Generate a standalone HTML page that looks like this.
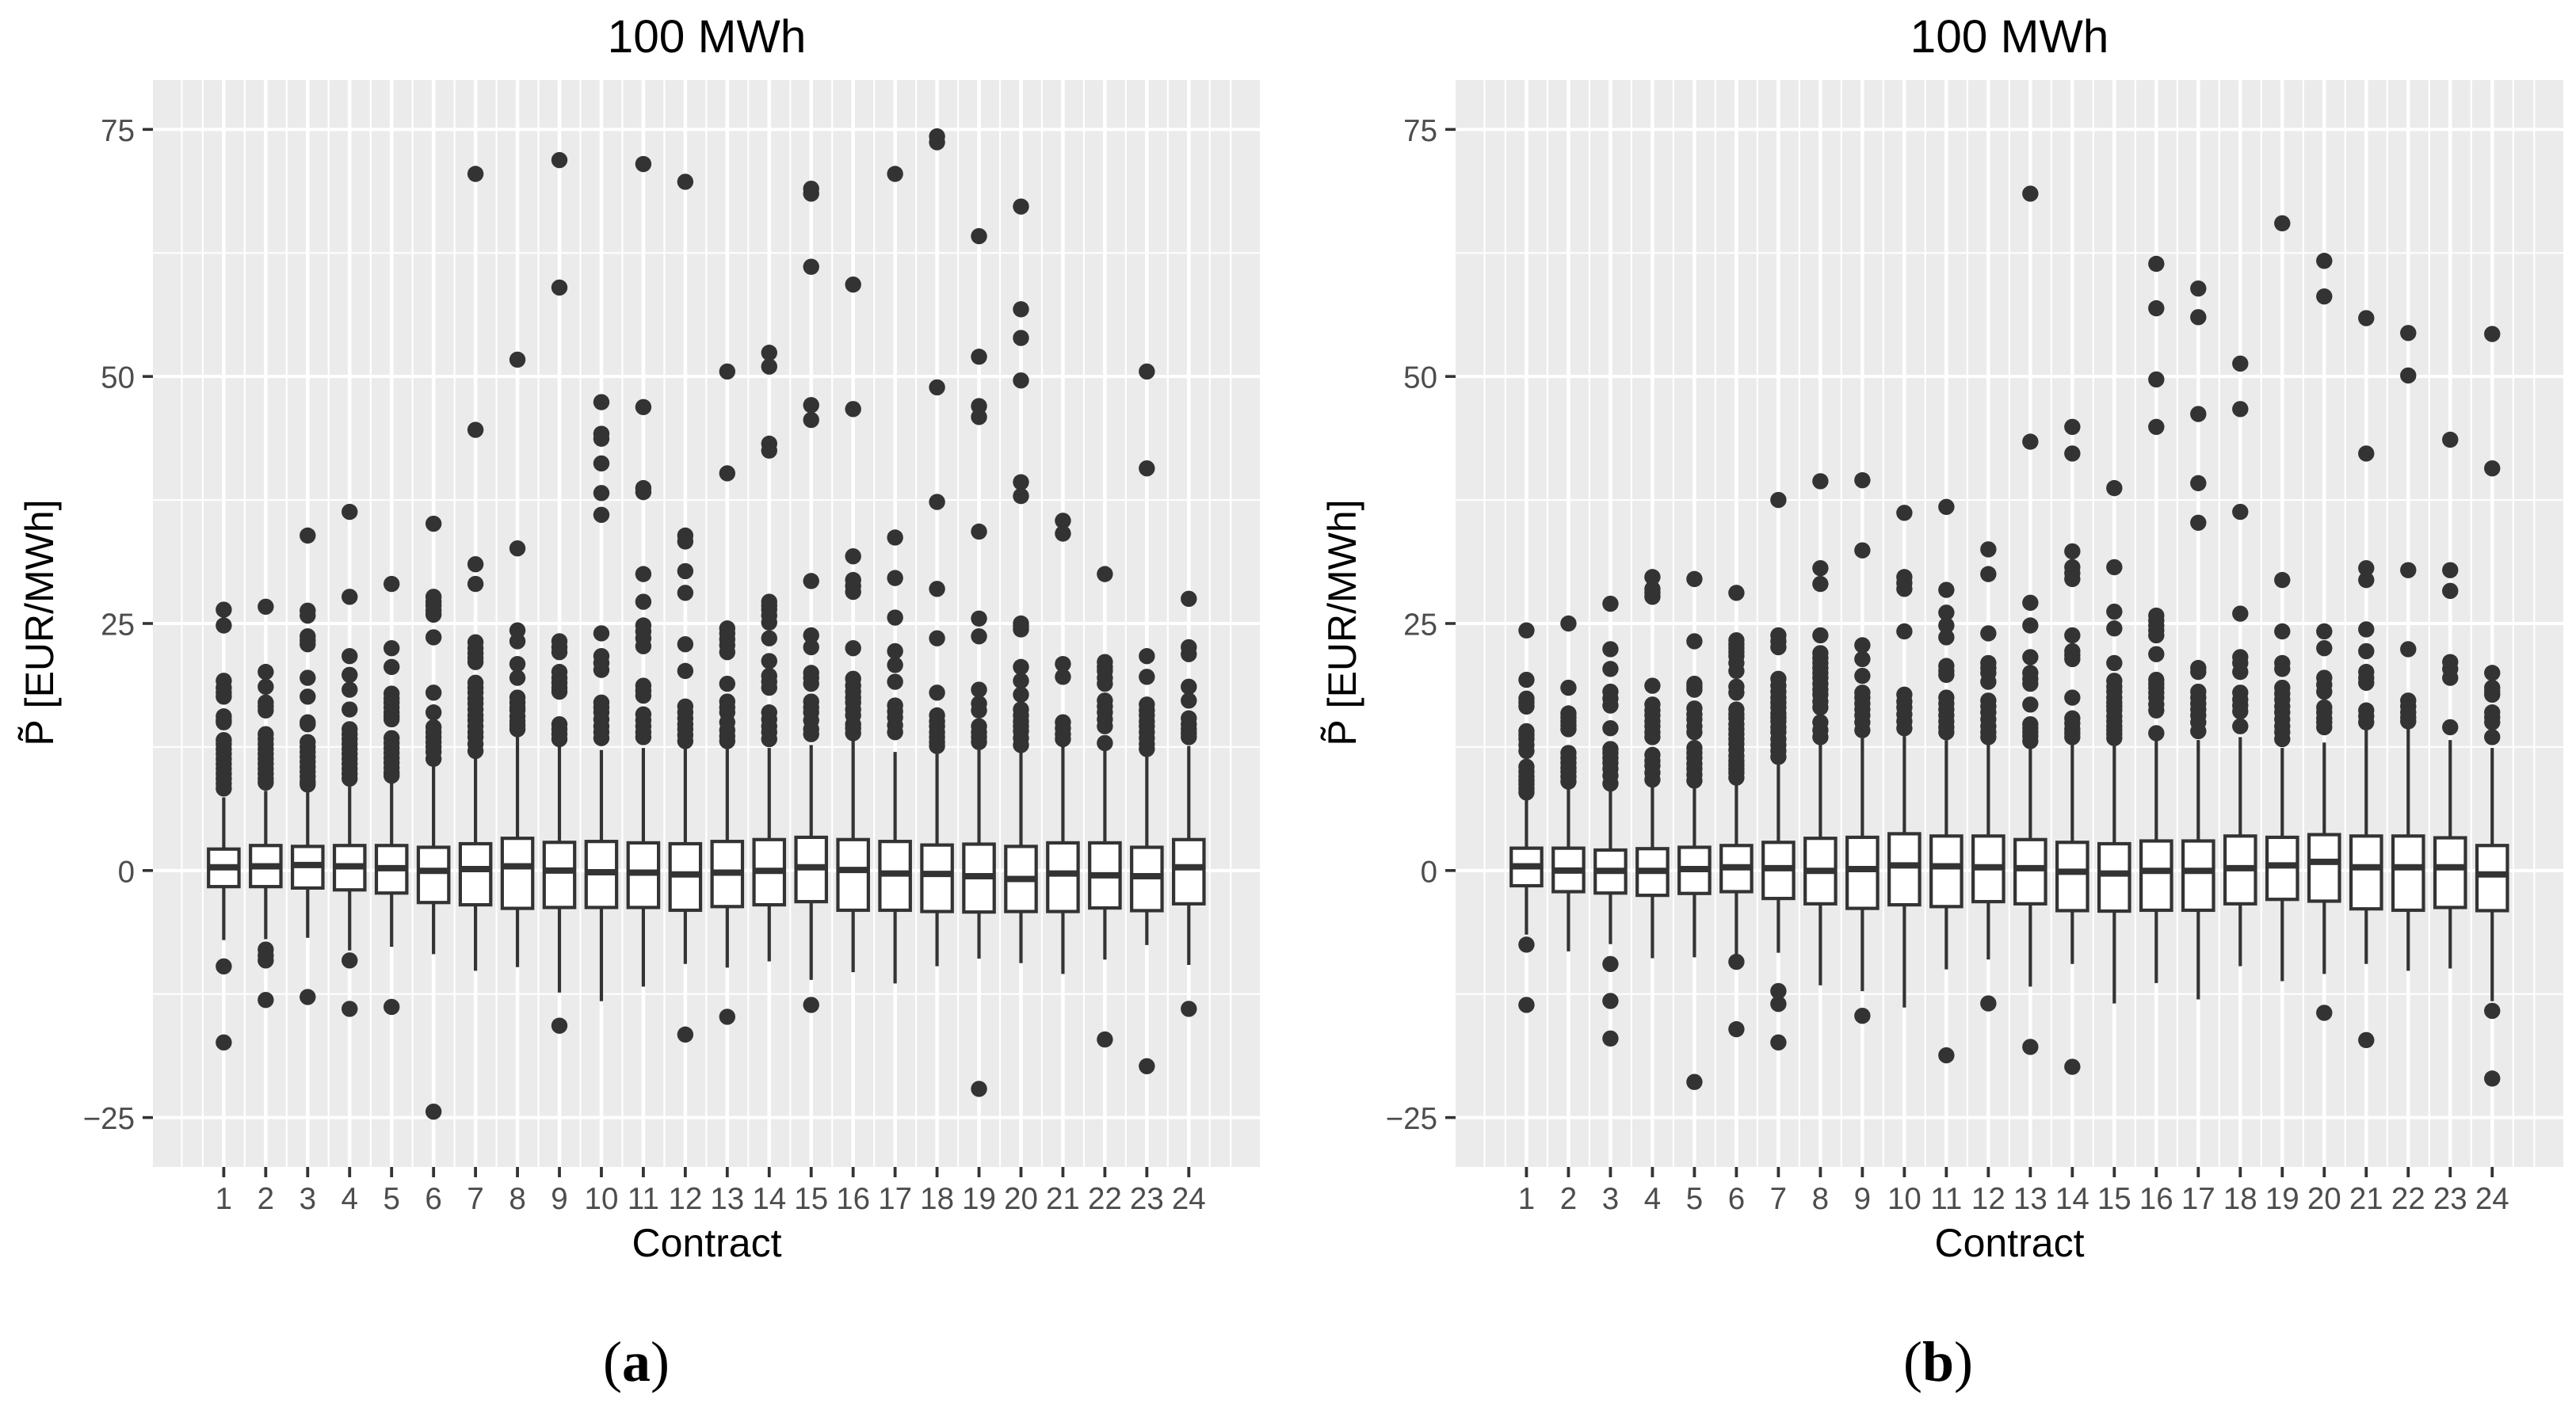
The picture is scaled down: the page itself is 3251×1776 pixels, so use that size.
<!DOCTYPE html>
<html lang="en">
<head>
<meta charset="utf-8">
<title>100 MWh boxplots</title>
<style>
html,body{margin:0;padding:0;background:#fff;}
svg{display:block;font-family:"Liberation Sans",sans-serif;}
.tick{font-size:38.5px;fill:#4d4d4d;}
.title{font-size:58.6px;fill:#000;text-anchor:middle;}
.axt{font-size:50px;fill:#000;text-anchor:middle;}
.cap{font-family:"Liberation Serif",serif;font-size:72px;fill:#000;text-anchor:middle;}
</style>
</head>
<body>
<svg id="chart" xmlns="http://www.w3.org/2000/svg" width="3251" height="1776" viewBox="0 0 3251 1776">
  <rect x="0" y="0" width="3251" height="1776" fill="#fff"/>
  <g id="panel-a"></g>
  <g id="panel-b"></g>

  <text class="title" x="892" y="66">100 MWh</text>
  <text class="title" x="2536" y="66">100 MWh</text>
  <text class="axt" x="892" y="1586">Contract</text>
  <text class="axt" x="2536" y="1586">Contract</text>
  <text class="axt" transform="translate(67,786) rotate(-90)">P&#771; [EUR/MWh]</text>
  <text class="axt" transform="translate(1711,786) rotate(-90)">P&#771; [EUR/MWh]</text>
  <text class="cap" x="803" y="1743">(<tspan font-weight="bold">a</tspan>)</text>
  <text class="cap" x="2446" y="1743">(<tspan font-weight="bold">b</tspan>)</text>
</svg>
<script>
const contracts = [1,2,3,4,5,6,7,8,9,10,11,12,13,14,15,16,17,18,19,20,21,22,23,24];
const yTickValues = [75,50,25,0,-25];
const yTickLabels = ['75','50','25','0','\u221225'];
const yMinorValues = [62.5,37.5,12.5,-12.5];
const xMinorValues = [0,0.5,1.5,2.5,3.5,4.5,5.5,6.5,7.5,8.5,9.5,10.5,11.5,12.5,13.5,14.5,15.5,16.5,17.5,18.5,19.5,20.5,21.5,22.5,23.5,24.5,25];

const q3A = [2.17,2.53,2.44,2.53,2.53,2.35,2.71,3.26,2.85,2.94,2.8,2.71,2.94,3.13,3.36,3.13,2.94,2.58,2.67,2.44,2.8,2.8,2.35,3.13];
const medianA = [0.33,0.43,0.56,0.43,0.24,-0.03,0.15,0.43,0,-0.17,-0.22,-0.4,-0.22,-0.03,0.33,0.06,-0.31,-0.35,-0.58,-0.86,-0.31,-0.49,-0.58,0.33];
const q1A = [-1.63,-1.63,-1.77,-1.96,-2.28,-3.24,-3.47,-3.83,-3.74,-3.74,-3.74,-4.02,-3.65,-3.47,-3.15,-4.02,-4.02,-4.15,-4.2,-4.15,-4.15,-3.79,-4.06,-3.37];
const whiskerLowA = [-7.04,-6.95,-6.81,-8.09,-7.72,-8.46,-10.15,-9.78,-12.35,-13.22,-11.75,-9.46,-9.83,-9.19,-11.07,-10.29,-11.43,-9.69,-8.91,-9.37,-10.47,-9.01,-7.54,-9.56];
const whiskerHighA = [7.4,8.06,7.9,8.5,8.8,10.5,11.3,13.5,12.5,12.2,12.4,12.3,12.3,12.4,12.7,13.1,12,11.8,12.2,11.9,12.5,12.1,11.5,12.6];
const outliersA = [
 [26.4,24.8,19.2,18.5,18,17.6,15.6,15.2,15,13.2,12.8,12.3,11.8,11.3,10.8,10.3,9.8,9.3,8.8,8.3,-9.7,-17.4],
 [26.7,20.1,18.6,17,16.6,16.2,13.8,13.3,12.8,12.3,11.8,11.3,10.8,10.3,9.8,9.3,8.9,-8,-8.6,-9.1,-13.1],
 [33.9,26.3,25.8,23.7,23.3,22.9,19.5,17.6,15,14.8,13,12.5,12,11.5,11,10.5,10,9.5,9,8.7,-12.8],
 [36.3,27.7,21.7,19.8,18.3,16.3,14.3,13.8,13.3,12.8,12.3,11.8,11.3,10.8,10.3,9.8,9.3,-9.1,-14],
 [29,22.5,20.6,17.9,17.4,17,16.5,16,15.6,15.3,13.4,12.9,12.4,11.9,11.4,10.9,10.4,9.9,9.6,-13.8],
 [35.1,27.7,27.2,26.8,26.3,25.9,23.6,18,16,14.5,14,13.5,13,12.5,12,11.3,-24.4],
 [70.5,44.6,31,29,23.1,22.5,22,21.5,21.1,19,18.5,18,17.4,16.9,16.3,15.7,15.2,14.6,14,13.5,12.8,12.1],
 [51.7,32.6,24.3,23.2,20.9,19.5,17.5,17,16.5,16.2,15.6,15.1,14.7,14.3],
 [71.9,59,23.2,22.6,22.1,20.1,19.5,19,18.5,18.1,14.8,14.3,13.8,13.3,-15.7],
 [47.4,44.2,43.7,41.2,38.2,36,24,21.7,21,20.3,17,16.5,16,15.3,14.6,14,13.4],
 [71.5,46.9,38.7,38.3,30,27.2,24.8,24.2,23.5,22.7,18.7,18.2,17.7,15.8,15.2,14.6,14,13.5],
 [69.7,33.9,33.3,30.3,28.1,22.9,20.2,16.6,16,15.4,14.8,14.3,13.7,13.1,-16.6],
 [50.5,40.2,24.5,24,23.4,22.8,22.1,18.9,17.1,16.5,16,15,14.2,13.6,13.1,-14.8],
 [52.4,51,43.2,42.5,27.2,26.8,26.4,25.8,25.1,23.5,21.2,19.7,19.1,18.5,16,15.3,14.6,14,13.3],
 [69,68.5,61.1,47.1,45.6,29.3,23.8,22.6,20,19.5,18.9,17.1,16.5,16,15.2,14.3,13.8,-13.6],
 [59.3,46.7,31.8,29.4,28.8,28.2,22.5,19.4,18.7,18.1,17.5,17,16.3,15.7,14.8,14.4,13.9],
 [70.5,33.7,29.6,25.6,22.2,20.8,19.1,16.7,16.1,15.5,14.7,14],
 [74.3,73.7,48.9,37.3,28.5,23.5,18,15.7,15.1,14.6,14,13.5,13,12.6],
 [64.2,52,47,45.9,34.3,25.5,23.7,18.3,16.9,16.2,14.6,14,13.5,13,-22.1],
 [67.2,56.8,53.9,49.6,39.3,37.9,25,24.7,24.4,20.6,19.2,17.8,16.3,15.7,15.1,14.6,14.1,13.4,12.7],
 [35.4,34.1,20.9,19.6,15,14.4,13.8,13.3],
 [30,21.1,20.6,20.2,19.5,18.9,17.2,16.6,16,15.3,14.6,12.9,-17.1],
 [50.5,40.7,21.7,19.6,16.8,16.2,15.7,15.1,14.6,14,13.4,12.8,12.3,-19.8],
 [27.5,22.6,21.9,18.6,17.2,15.4,14.8,14.3,13.9,13.5,-14]
];

const q3B = [2.26,2.26,2.07,2.21,2.35,2.53,2.85,3.26,3.36,3.72,3.49,3.49,3.13,2.85,2.71,2.99,2.99,3.49,3.36,3.63,3.49,3.49,3.31,2.53];
const medianB = [0.43,0,-0.03,-0.03,0.15,0.33,0.24,-0.03,0.15,0.52,0.43,0.33,0.24,-0.12,-0.31,-0.03,-0.03,0.24,0.52,0.88,0.33,0.33,0.33,-0.4];
const q1B = [-1.54,-2.14,-2.28,-2.51,-2.32,-2.14,-2.83,-3.37,-3.83,-3.47,-3.65,-3.15,-3.37,-4.06,-4.11,-4.02,-4.02,-3.37,-2.92,-3.1,-3.88,-4.02,-3.74,-4.06];
const whiskerLowB = [-6.49,-8.18,-7.45,-8.87,-8.78,-8.69,-8.32,-11.62,-12.21,-13.86,-10.01,-9,-11.75,-9.46,-13.45,-11.39,-13.04,-9.69,-11.2,-10.47,-9.46,-10.15,-9.92,-13.22];
const whiskerHighB = [7.2,8.2,8,8.4,8.3,8.6,10.7,12.7,13.4,13.6,13.2,12.7,12.3,12.7,12.6,13.1,13.2,13.5,12.4,12.95,14.3,14.4,13.2,12.4];
const outliersB = [
 [24.3,19.3,17.4,17,16.6,14.1,13.7,13.3,12.7,12.1,10.5,10,9.5,9.1,8.7,8.3,7.9,-7.5,-13.6],
 [25,18.5,15.9,15.5,15.1,14.7,14.3,11.9,11.4,10.9,10.4,10,9.5,9],
 [27,22.4,20.4,18.1,17.4,16.7,14.4,12.3,11.9,11.4,10.9,10.3,9.6,8.8,-9.46,-13.2,-17],
 [29.7,28.5,28.1,27.7,18.7,16.8,16.2,15.7,15.1,14.6,14,13.5,11.7,11.1,10.6,9.9,9.2],
 [29.5,23.2,18.9,18.6,18.3,16.4,15.8,15.3,14.6,14,12.4,11.9,11.4,10.8,10.3,9.7,9.1,-21.4],
 [28.1,23.3,22.9,22.5,22.1,21.7,21,20.2,18.6,18,16.3,15.8,15.4,14.8,14.3,13.8,13.3,12.8,12.2,11.6,11.1,10.7,10.3,9.9,9.4,-9.24,-16.06],
 [37.5,23.8,23.2,22.6,19.4,18.7,18.1,17.5,17,16.5,15.9,15.5,15.1,14.5,14,13.3,12.7,12.1,11.5,-12.2,-13.5,-17.4],
 [39.4,30.6,29,23.8,22,21.5,21,20.5,20,19.5,18.9,18.3,17.8,17.1,16.5,15,14.2,13.5],
 [39.5,32.4,22.8,21.4,19.7,18,17.5,16.9,16.3,15.7,15,14.2,-14.7],
 [36.2,29.7,29.1,28.5,24.2,17.8,17.1,16.5,15.8,15.1,14.4],
 [36.8,28.4,26.1,24.8,23.6,20.7,20.2,19.8,17.5,16.9,16.3,15.7,15.1,14.5,14,-18.7],
 [32.5,30,24,21,20.5,20,19.1,17.2,16.6,16,15.3,14.6,14,13.5,-13.45],
 [68.5,43.4,27.1,24.8,21.6,20,19.4,18.9,16.8,14.8,14.4,14,13.6,13.1,-17.85],
 [44.9,42.2,32.3,30.7,30.1,29.5,23.8,22.2,21.8,21.4,17.5,15.4,14.9,14.3,13.9,13.5,-19.86],
 [38.7,30.7,26.2,24.5,21,19.2,18.6,18.1,17.5,17,16.6,16.2,15.6,15.1,14.6,14.2,13.8,13.4],
 [61.4,56.9,49.7,44.9,25.8,25.3,24.8,24.3,23.8,21.9,19.3,18.9,18.5,18,17.5,16.8,16.2,13.9],
 [58.9,56,46.2,39.2,35.2,20.5,20.1,18.1,17.5,16.9,16.3,15.7,15,14.1],
 [51.3,46.7,36.3,26,21.6,21,20.1,18,17.3,16.7,16.1,14.6],
 [65.5,29.4,24.2,21,20.4,18.5,17.9,17.3,16.6,16,15.3,14.6,14,13.3],
 [61.7,58.1,24.2,22.5,19.5,18.8,18.1,16.5,16,15.4,15,14.5,-14.4],
 [55.9,42.2,30.6,29.4,24.4,22.2,20.1,19.5,19,16.2,15.6,15,-17.16],
 [54.4,50.1,30.4,22.4,17.2,16.6,16,15.5,15.1],
 [43.6,30.4,28.3,21.1,20.4,19.5,14.5],
 [54.3,40.7,20,18.5,18.1,17.8,16,15.5,15,13.5,-14.2,-21.05]
];

const SVG_NS = 'http://www.w3.org/2000/svg';
const DARK = '#333333';
const X_DOMAIN = [-0.688, 25.694];
const Y_DOMAIN = [-30, 80];
const PANEL_TOP = 101;
const PANEL_BOTTOM = 1473;

function make(tag, parent, attrs) {
  const el = document.createElementNS(SVG_NS, tag);
  for (const k in attrs) el.setAttribute(k, attrs[k]);
  parent.appendChild(el);
  return el;
}

function drawPanel(parent, prefix, left, right, q3, median, q1, whiskerLow, whiskerHigh, outliers) {
  const xScale = c => left + (c - X_DOMAIN[0]) * (right - left) / (X_DOMAIN[1] - X_DOMAIN[0]);
  const yScale = v => PANEL_BOTTOM - (v - Y_DOMAIN[0]) * (PANEL_BOTTOM - PANEL_TOP) / (Y_DOMAIN[1] - Y_DOMAIN[0]);
  const unit = xScale(1) - xScale(0);
  const boxW = unit * 0.725;

  const bg = make('rect', parent, {x:left, y:PANEL_TOP, width:right-left, height:PANEL_BOTTOM-PANEL_TOP, fill:'#ebebeb'});
  
  

  yMinorValues.forEach(v => {
    const l = make('line', parent, {x1:left, x2:right, y1:yScale(v), y2:yScale(v), stroke:'#fff', 'stroke-width':2});
    
    
  });
  xMinorValues.forEach(v => {
    const l = make('line', parent, {x1:xScale(v), x2:xScale(v), y1:PANEL_TOP, y2:PANEL_BOTTOM, stroke:'#fff', 'stroke-width':2.2});
    
    
  });
  yTickValues.forEach((v, i) => {
    const l = make('line', parent, {x1:left, x2:right, y1:yScale(v), y2:yScale(v), stroke:'#fff', 'stroke-width':4});
    
    
    const t = make('line', parent, {x1:left-13, x2:left, y1:yScale(v), y2:yScale(v), stroke:DARK, 'stroke-width':3.6});
    
    
    const lab = make('text', parent, {x:left-23, y:yScale(v)+14.5, 'text-anchor':'end', 'class':'tick'});
    lab.textContent = yTickLabels[i];
    
    
  });
  contracts.forEach(c => {
    const l = make('line', parent, {x1:xScale(c), x2:xScale(c), y1:PANEL_TOP, y2:PANEL_BOTTOM, stroke:'#fff', 'stroke-width':4.6});
    
    
    const t = make('line', parent, {x1:xScale(c), x2:xScale(c), y1:PANEL_BOTTOM, y2:PANEL_BOTTOM+13, stroke:DARK, 'stroke-width':3.8});
    
    
    const lab = make('text', parent, {x:xScale(c), y:1526, 'text-anchor':'middle', 'class':'tick'});
    lab.textContent = String(c);
    
    
  });

  contracts.forEach((c, i) => {
    const cx = xScale(c);
    outliers[i].forEach(v => {
      const p = make('circle', parent, {cx:cx, cy:yScale(v), r:10.2, fill:DARK});
      
      
    });
    const wh = make('line', parent, {x1:cx, x2:cx, y1:yScale(q3[i]), y2:yScale(whiskerHigh[i]), stroke:DARK, 'stroke-width':4.2});
    
    
    const wl = make('line', parent, {x1:cx, x2:cx, y1:yScale(q1[i]), y2:yScale(whiskerLow[i]), stroke:DARK, 'stroke-width':4.2});
    
    
    const box = make('rect', parent, {x:cx-boxW/2, y:yScale(q3[i]), width:boxW, height:yScale(q1[i])-yScale(q3[i]), fill:'#fff', stroke:DARK, 'stroke-width':4.2});
    
    
    const med = make('line', parent, {x1:cx-boxW/2, x2:cx+boxW/2, y1:yScale(median[i]), y2:yScale(median[i]), stroke:DARK, 'stroke-width':8});
    
    
  });
}

drawPanel(document.getElementById('panel-a'), 'panel-a', 193, 1590, q3A, medianA, q1A, whiskerLowA, whiskerHighA, outliersA);
drawPanel(document.getElementById('panel-b'), 'panel-b', 1837, 3235, q3B, medianB, q1B, whiskerLowB, whiskerHighB, outliersB);
</script>
</body>
</html>
